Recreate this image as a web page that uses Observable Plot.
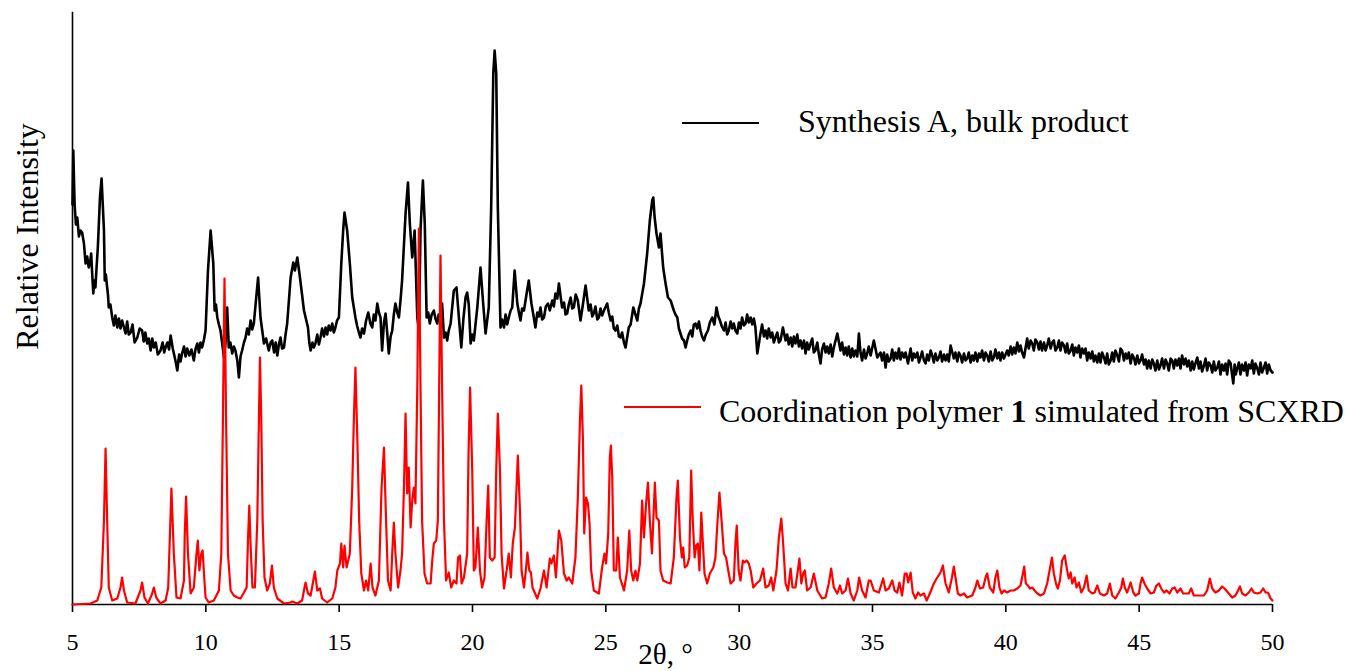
<!DOCTYPE html>
<html>
<head>
<meta charset="utf-8">
<script src="https://cdn.jsdelivr.net/npm/d3@7"></script>
<script src="https://cdn.jsdelivr.net/npm/@observablehq/plot@0.6"></script>
<style>
  html, body { margin: 0; padding: 0; background: #fff; }
  #chart { width: 1349px; height: 671px; }
</style>
</head>
<body>
<div id="chart"></div>
<script>
// Powder X-ray diffraction patterns, intensity in arbitrary units.
const xTicks = [5, 10, 15, 20, 25, 30, 35, 40, 45, 50];
const seriesNames = ["Synthesis A, bulk product", "Coordination polymer 1 simulated from SCXRD"];
const seriesColors = ["#000000", "#ff0000"];

// [2θ (°), intensity] measured pattern of the bulk product
const bulkPattern = [
  [5.00,400],[5.03,454],[5.06,420],[5.08,399],[5.13,380],[5.18,387],[5.24,368],[5.30,374],[5.36,372],[5.43,361],
  [5.49,341],[5.55,348],[5.61,337],[5.66,342],[5.70,351],[5.74,330],[5.78,311],[5.82,324],[5.86,317],[5.90,336],
  [5.95,357],[6.03,407],[6.09,426],[6.18,374],[6.21,324],[6.25,330],[6.30,317],[6.33,310],[6.36,297],[6.42,300],
  [6.49,287],[6.55,279],[6.61,289],[6.68,277],[6.74,286],[6.80,276],[6.86,284],[6.92,278],[6.99,271],[7.05,283],
  [7.11,270],[7.18,272],[7.25,280],[7.33,262],[7.43,267],[7.52,276],[7.61,274],[7.67,263],[7.73,272],[7.80,261],
  [7.86,266],[7.93,254],[7.99,266],[8.05,257],[8.12,262],[8.20,250],[8.30,254],[8.38,262],[8.44,252],[8.49,257],
  [8.56,262],[8.62,255],[8.68,269],[8.76,256],[8.86,244],[8.93,234],[9.00,250],[9.05,243],[9.11,251],[9.18,258],
  [9.24,248],[9.30,256],[9.38,249],[9.46,255],[9.55,244],[9.61,255],[9.68,261],[9.74,252],[9.80,262],[9.86,257],
  [9.93,265],[9.99,274],[10.08,334],[10.18,374],[10.28,341],[10.33,294],[10.38,300],[10.43,287],[10.49,280],[10.55,274],
  [10.61,262],[10.68,247],[10.74,262],[10.80,297],[10.86,257],[10.92,262],[10.99,251],[11.05,258],[11.11,254],[11.18,244],
  [11.24,227],[11.30,248],[11.36,254],[11.43,262],[11.49,267],[11.55,276],[11.61,270],[11.68,284],[11.74,275],[11.80,281],
  [11.89,307],[11.96,327],[12.05,287],[12.18,261],[12.26,266],[12.36,254],[12.43,262],[12.49,264],[12.56,252],[12.62,262],
  [12.68,249],[12.74,260],[12.80,267],[12.86,256],[12.93,257],[12.99,270],[13.05,281],[13.18,327],[13.28,342],[13.34,334],
  [13.43,347],[13.53,327],[13.68,294],[13.83,277],[13.88,262],[13.93,254],[14.00,262],[14.05,257],[14.11,261],[14.18,270],
  [14.24,260],[14.30,267],[14.36,276],[14.43,268],[14.49,277],[14.55,270],[14.61,279],[14.68,274],[14.74,281],[14.80,272],
  [14.86,277],[14.92,284],[14.99,287],[15.08,341],[15.15,374],[15.20,392],[15.30,374],[15.40,341],[15.49,307],[15.61,287],
  [15.67,279],[15.74,272],[15.80,267],[15.86,276],[15.93,271],[16.01,284],[16.09,292],[16.17,281],[16.24,277],[16.30,290],
  [16.36,284],[16.43,301],[16.49,292],[16.55,287],[16.61,254],[16.68,282],[16.74,291],[16.80,272],[16.86,251],[16.93,268],
  [16.99,274],[17.05,290],[17.11,301],[17.18,292],[17.24,287],[17.30,304],[17.36,324],[17.49,391],[17.58,422],[17.65,381],
  [17.74,347],[17.83,374],[17.93,287],[17.99,274],[18.05,374],[18.14,424],[18.21,381],[18.28,287],[18.34,292],[18.40,281],
  [18.47,290],[18.55,294],[18.61,286],[18.68,281],[18.73,290],[18.78,284],[18.86,301],[18.93,267],[18.99,272],[19.05,264],
  [19.11,274],[19.18,281],[19.30,314],[19.40,317],[19.49,287],[19.58,257],[19.66,286],[19.74,307],[19.80,312],[19.86,300],
  [19.93,261],[19.99,270],[20.05,264],[20.18,297],[20.30,337],[20.40,301],[20.49,271],[20.61,297],[20.70,397],[20.78,531],
  [20.83,554],[20.89,531],[20.95,397],[21.05,277],[21.11,285],[21.18,277],[21.24,290],[21.30,280],[21.36,287],[21.43,294],
  [21.49,297],[21.58,334],[21.68,301],[21.74,292],[21.80,284],[21.86,296],[21.93,294],[22.03,311],[22.11,324],[22.21,301],
  [22.28,290],[22.36,277],[22.43,292],[22.49,288],[22.55,297],[22.61,285],[22.68,287],[22.75,298],[22.83,301],[22.90,294],
  [22.99,304],[23.05,298],[23.11,311],[23.18,306],[23.24,321],[23.36,297],[23.43,302],[23.49,290],[23.55,291],[23.61,300],
  [23.68,307],[23.74,296],[23.80,297],[23.87,310],[23.95,304],[24.05,284],[24.14,300],[24.24,319],[24.36,294],[24.43,300],
  [24.49,288],[24.55,291],[24.61,298],[24.68,285],[24.74,287],[24.80,296],[24.86,289],[24.93,294],[25.05,301],[25.11,292],
  [25.18,284],[25.24,288],[25.30,276],[25.36,274],[25.43,279],[25.49,268],[25.55,267],[25.61,272],[25.68,262],[25.74,257],
  [25.86,277],[25.93,280],[26.03,297],[26.11,290],[26.18,284],[26.24,296],[26.30,301],[26.43,321],[26.55,351],[26.65,384],
  [26.74,404],[26.78,407],[26.83,387],[26.90,371],[26.99,357],[27.05,371],[27.15,337],[27.24,321],[27.33,307],[27.43,304],
  [27.55,294],[27.61,290],[27.68,287],[27.74,276],[27.80,271],[27.86,266],[27.93,264],[27.99,257],[28.05,264],[28.11,270],
  [28.18,274],[28.24,268],[28.30,280],[28.36,281],[28.43,276],[28.49,283],[28.55,274],[28.61,268],[28.68,264],[28.75,270],
  [28.83,274],[28.90,282],[28.99,287],[29.07,280],[29.15,297],[29.22,288],[29.28,284],[29.35,278],[29.43,274],[29.49,282],
  [29.55,270],[29.61,274],[29.68,283],[29.74,276],[29.80,281],[29.86,274],[29.93,271],[29.99,282],[30.05,276],[30.11,287],
  [30.18,279],[30.24,281],[30.30,290],[30.36,282],[30.43,287],[30.49,280],[30.55,286],[30.61,277],[30.68,251],[30.80,271],
  [30.86,280],[30.93,268],[30.99,274],[31.05,266],[31.11,276],[31.18,267],[31.24,272],[31.30,262],[31.36,267],[31.43,272],
  [31.49,262],[31.55,264],[31.64,277],[31.74,264],[31.80,270],[31.86,260],[31.93,267],[31.99,258],[32.05,268],[32.11,261],
  [32.18,270],[32.24,258],[32.30,264],[32.36,256],[32.43,264],[32.49,251],[32.55,262],[32.61,255],[32.68,261],[32.74,266],
  [32.80,252],[32.86,254],[32.93,262],[32.99,250],[33.05,241],[33.11,255],[33.18,261],[33.24,252],[33.30,258],[33.36,251],
  [33.43,260],[33.49,248],[33.55,257],[33.68,271],[33.80,254],[33.86,262],[33.93,250],[33.99,257],[34.05,249],[34.11,258],
  [34.18,247],[34.24,256],[34.30,248],[34.36,254],[34.43,248],[34.49,271],[34.55,252],[34.61,244],[34.68,255],[34.74,246],
  [34.80,251],[34.86,258],[34.93,249],[35.05,264],[35.18,247],[35.30,252],[35.36,244],[35.43,252],[35.49,237],[35.55,250],
  [35.61,243],[35.68,246],[35.74,255],[35.80,244],[35.86,252],[35.93,246],[35.99,256],[36.05,245],[36.11,252],[36.18,247],
  [36.24,252],[36.33,241],[36.43,256],[36.49,244],[36.55,251],[36.61,247],[36.68,252],[36.74,242],[36.80,247],[36.86,253],
  [36.93,244],[36.99,241],[37.05,250],[37.11,244],[37.18,254],[37.24,249],[37.30,242],[37.36,251],[37.43,244],[37.49,247],
  [37.55,253],[37.61,243],[37.68,250],[37.74,244],[37.80,250],[37.86,243],[37.93,259],[38.05,246],[38.11,252],[38.18,243],
  [38.24,252],[38.30,249],[38.36,242],[38.43,251],[38.49,244],[38.55,246],[38.61,252],[38.68,242],[38.74,249],[38.80,244],
  [38.86,252],[38.93,243],[38.99,251],[39.05,247],[39.11,254],[39.18,244],[39.24,252],[39.30,249],[39.36,243],[39.43,253],
  [39.49,244],[39.55,247],[39.61,255],[39.68,246],[39.74,252],[39.80,244],[39.86,252],[39.93,246],[40.05,254],[40.11,249],
  [40.18,258],[40.24,250],[40.30,257],[40.36,251],[40.43,262],[40.49,253],[40.55,259],[40.61,252],[40.68,247],[40.80,266],
  [40.86,256],[40.93,264],[40.99,261],[41.05,254],[41.11,265],[41.18,262],[41.24,255],[41.30,263],[41.36,254],[41.43,262],
  [41.49,254],[41.55,259],[41.61,266],[41.68,256],[41.74,262],[41.80,264],[41.86,254],[41.93,257],[41.99,264],[42.05,254],
  [42.11,262],[42.18,259],[42.24,252],[42.30,261],[42.36,251],[42.43,254],[42.49,260],[42.55,249],[42.61,257],[42.68,252],
  [42.74,259],[42.80,247],[42.86,256],[42.93,251],[42.99,256],[43.05,244],[43.11,252],[43.18,246],[43.24,253],[43.30,243],
  [43.36,249],[43.43,242],[43.49,251],[43.55,242],[43.61,252],[43.68,247],[43.74,241],[43.80,251],[43.86,240],[43.93,244],
  [43.99,252],[44.05,243],[44.11,254],[44.18,249],[44.24,243],[44.30,256],[44.36,254],[44.43,244],[44.49,251],[44.55,246],
  [44.61,252],[44.68,241],[44.74,250],[44.80,247],[44.86,240],[44.93,249],[44.99,241],[45.05,244],[45.11,250],[45.18,240],
  [45.24,245],[45.30,236],[45.36,244],[45.43,236],[45.49,245],[45.55,241],[45.61,234],[45.68,244],[45.74,235],[45.80,239],
  [45.86,246],[45.93,236],[45.99,245],[46.05,241],[46.11,234],[46.18,246],[46.24,244],[46.30,236],[46.36,245],[46.43,239],
  [46.49,246],[46.55,236],[46.61,249],[46.68,240],[46.74,246],[46.80,238],[46.86,244],[46.93,234],[46.99,243],[47.05,235],
  [47.11,241],[47.18,247],[47.24,236],[47.30,243],[47.36,233],[47.43,239],[47.49,246],[47.55,234],[47.61,242],[47.68,239],
  [47.74,232],[47.80,243],[47.86,234],[47.93,237],[47.99,243],[48.05,230],[48.11,240],[48.18,234],[48.24,241],[48.30,230],
  [48.36,244],[48.43,241],[48.53,221],[48.58,240],[48.62,230],[48.68,236],[48.74,242],[48.80,230],[48.86,240],[48.93,234],
  [48.99,242],[49.05,229],[49.11,240],[49.18,236],[49.24,244],[49.30,231],[49.36,241],[49.43,236],[49.49,230],[49.55,242],
  [49.61,232],[49.68,237],[49.74,242],[49.80,231],[49.86,240],[49.93,234],[50.00,232]
];

// [2θ (°), intensity] pattern simulated from the single-crystal structure
const simulatedPattern = [
  [5.00,0],[5.68,1],[5.93,4],[6.08,17],[6.18,84],[6.24,156],[6.30,84],[6.36,17],[6.49,4],[6.68,6],
  [6.80,17],[6.86,27],[6.93,14],[7.05,2],[7.36,1],[7.55,14],[7.61,22],[7.70,7],[7.83,1],[7.99,11],
  [8.05,17],[8.14,7],[8.30,1],[8.49,4],[8.59,17],[8.65,67],[8.71,116],[8.80,51],[8.90,7],[9.05,6],
  [9.18,24],[9.21,71],[9.26,108],[9.33,51],[9.43,11],[9.55,17],[9.65,51],[9.70,64],[9.76,34],[9.83,51],
  [9.88,54],[9.93,31],[9.99,7],[10.11,2],[10.30,4],[10.49,14],[10.58,51],[10.64,184],[10.70,326],[10.76,184],
  [10.83,51],[10.93,14],[11.05,9],[11.18,7],[11.30,6],[11.43,12],[11.53,17],[11.58,64],[11.63,99],[11.69,51],
  [11.75,17],[11.84,17],[11.93,84],[11.99,184],[12.03,247],[12.08,184],[12.13,84],[12.20,27],[12.30,14],[12.40,21],
  [12.48,39],[12.55,17],[12.68,6],[12.93,1],[13.18,2],[13.24,3],[13.43,1],[13.61,4],[13.68,14],[13.74,22],
  [13.83,11],[13.93,9],[14.03,24],[14.09,33],[14.18,14],[14.28,16],[14.36,6],[14.55,2],[14.74,6],[14.86,17],
  [14.93,34],[15.03,41],[15.08,61],[15.15,37],[15.20,59],[15.28,37],[15.40,51],[15.49,117],[15.55,184],[15.61,237],
  [15.68,167],[15.75,84],[15.83,31],[15.93,14],[16.01,24],[16.09,14],[16.18,41],[16.25,17],[16.36,9],[16.49,24],
  [16.59,117],[16.68,157],[16.74,101],[16.83,24],[16.93,14],[16.99,51],[17.05,82],[17.11,51],[17.21,17],[17.30,34],
  [17.36,51],[17.43,117],[17.49,191],[17.55,111],[17.61,137],[17.68,77],[17.74,104],[17.80,117],[17.86,101],[17.93,217],
  [17.99,376],[18.05,217],[18.11,84],[18.20,31],[18.30,21],[18.43,21],[18.49,44],[18.55,61],[18.64,64],[18.70,84],
  [18.75,217],[18.80,349],[18.86,217],[18.93,84],[19.01,24],[19.11,32],[19.20,17],[19.30,24],[19.40,21],[19.46,47],
  [19.53,49],[19.59,21],[19.68,27],[19.80,51],[19.85,150],[19.91,217],[19.99,134],[20.05,34],[20.11,37],[20.20,77],
  [20.28,34],[20.36,17],[20.45,27],[20.53,84],[20.59,119],[20.65,47],[20.74,44],[20.83,47],[20.89,134],[20.95,191],
  [21.03,134],[21.09,51],[21.18,16],[21.28,34],[21.36,51],[21.44,27],[21.51,61],[21.59,77],[21.70,149],[21.78,94],
  [21.84,34],[21.93,17],[22.00,34],[22.06,52],[22.13,34],[22.19,32],[22.25,17],[22.43,6],[22.55,16],[22.68,34],
  [22.78,17],[22.90,46],[22.96,41],[23.05,49],[23.13,27],[23.24,74],[23.33,64],[23.43,31],[23.53,24],[23.61,27],
  [23.74,21],[23.86,47],[23.95,107],[24.03,184],[24.08,219],[24.14,167],[24.19,71],[24.26,107],[24.33,101],[24.39,81],
  [24.45,34],[24.55,14],[24.74,11],[24.86,37],[24.95,51],[25.01,41],[25.09,71],[25.15,147],[25.19,159],[25.24,127],
  [25.30,34],[25.39,34],[25.45,67],[25.53,27],[25.68,14],[25.80,34],[25.88,74],[25.95,34],[26.03,24],[26.11,34],
  [26.18,24],[26.28,41],[26.36,104],[26.43,67],[26.51,101],[26.58,122],[26.65,84],[26.73,51],[26.79,91],[26.84,122],
  [26.90,87],[26.99,84],[27.05,34],[27.15,24],[27.30,22],[27.43,21],[27.55,47],[27.65,107],[27.70,124],[27.78,67],
  [27.85,47],[27.90,57],[27.96,37],[28.05,39],[28.13,47],[28.20,134],[28.26,84],[28.33,47],[28.39,59],[28.45,61],
  [28.51,34],[28.58,92],[28.64,61],[28.70,31],[28.80,21],[28.90,31],[29.03,37],[29.11,47],[29.19,84],[29.26,112],
  [29.34,84],[29.43,51],[29.51,47],[29.59,34],[29.68,21],[29.80,24],[29.86,61],[29.91,79],[29.98,34],[30.05,24],
  [30.14,44],[30.20,42],[30.28,44],[30.36,41],[30.43,34],[30.53,17],[30.65,21],[30.78,24],[30.90,36],[30.99,17],
  [31.11,19],[31.20,27],[31.28,14],[31.40,34],[31.49,67],[31.58,86],[31.65,61],[31.74,21],[31.83,14],[31.93,36],
  [32.00,17],[32.11,17],[32.20,34],[32.26,46],[32.33,21],[32.40,31],[32.46,34],[32.55,14],[32.68,17],[32.80,31],
  [32.93,14],[33.11,6],[33.24,7],[33.36,21],[33.45,36],[33.55,17],[33.68,11],[33.78,19],[33.86,11],[33.99,14],
  [34.08,26],[34.18,11],[34.30,4],[34.43,14],[34.50,27],[34.61,14],[34.74,7],[34.86,24],[34.93,24],[35.05,14],
  [35.24,12],[35.40,26],[35.49,14],[35.61,16],[35.74,24],[35.83,14],[35.93,12],[36.01,22],[36.11,9],[36.21,31],
  [36.28,31],[36.34,22],[36.43,32],[36.51,12],[36.61,6],[36.71,12],[36.80,9],[36.93,11],[37.03,4],[37.15,11],
  [37.30,21],[37.43,27],[37.55,32],[37.64,39],[37.74,21],[37.86,12],[37.98,27],[38.05,38],[38.13,24],[38.20,11],
  [38.30,9],[38.43,11],[38.55,7],[38.74,9],[38.86,17],[38.93,24],[39.03,16],[39.15,17],[39.24,27],[39.30,31],
  [39.40,17],[39.53,12],[39.61,27],[39.68,34],[39.76,17],[39.84,11],[39.93,14],[40.05,12],[40.18,14],[40.30,14],
  [40.43,16],[40.55,19],[40.64,31],[40.69,38],[40.75,21],[40.83,19],[40.90,16],[40.99,17],[41.08,14],[41.18,11],
  [41.30,9],[41.43,11],[41.55,21],[41.64,34],[41.73,47],[41.80,31],[41.88,21],[41.95,16],[42.03,24],[42.11,44],
  [42.21,49],[42.30,34],[42.36,26],[42.43,32],[42.49,21],[42.58,27],[42.65,17],[42.74,22],[42.83,12],[42.93,17],
  [43.03,29],[43.11,14],[43.24,11],[43.33,12],[43.43,19],[43.53,11],[43.68,9],[43.80,11],[43.90,21],[43.99,9],
  [44.11,6],[44.24,12],[44.33,17],[44.39,26],[44.46,17],[44.55,12],[44.68,22],[44.78,12],[44.86,9],[44.99,11],
  [45.05,21],[45.11,27],[45.20,21],[45.30,16],[45.43,11],[45.55,12],[45.65,19],[45.74,21],[45.83,16],[45.93,12],
  [46.03,14],[46.14,11],[46.24,16],[46.33,17],[46.43,12],[46.55,16],[46.65,11],[46.74,11],[46.86,11],[46.95,16],
  [47.05,9],[47.24,9],[47.43,9],[47.55,14],[47.65,26],[47.74,16],[47.86,12],[47.99,14],[48.11,18],[48.20,16],
  [48.33,12],[48.49,7],[48.61,9],[48.71,14],[48.78,18],[48.86,11],[48.99,9],[49.11,12],[49.21,16],[49.30,12],
  [49.43,11],[49.55,12],[49.65,16],[49.74,12],[49.83,12],[49.93,6],[50.00,4]
];

const serif = "'Liberation Serif', 'Times New Roman', Times, serif";

const chart = Plot.plot({
  width: 1349,
  height: 671,
  marginLeft: 72,
  marginRight: 77,
  marginTop: 12,
  marginBottom: 67,
  style: { fontFamily: serif, fontSize: "24px", color: "#000", background: "#fff" },
  x: { domain: [5, 50] },
  y: { domain: [0, 592], axis: null },
  marks: [
    Plot.frame({ anchor: "left", stroke: "#000", strokeWidth: 1.6 }),
    Plot.ruleY([0], { stroke: "#000", strokeWidth: 1.6 }),
    Plot.axisX({ ticks: xTicks, tickSize: 8, tickPadding: 20, fontSize: 24, label: null, strokeWidth: 1.6 }),
    Plot.line(bulkPattern, { x: d => d[0], y: d => d[1], stroke: seriesColors[0], strokeWidth: 2.6, strokeLinejoin: "round" }),
    Plot.line(simulatedPattern, { x: d => d[0], y: d => d[1], stroke: seriesColors[1], strokeWidth: 2.2, strokeLinejoin: "round" }),
    Plot.text(["2θ, °"], { frameAnchor: "bottom", lineAnchor: "middle", textAnchor: "middle", dx: -7, dy: 50, fontSize: 29 }),
    Plot.text(["Relative Intensity"], { frameAnchor: "left", lineAnchor: "middle", textAnchor: "middle", rotate: -90, dx: -45, dy: -72, fontSize: 32 })
  ]
});

document.getElementById("chart").appendChild(chart);

// Legend: a short line sample followed by the series name
const svg = d3.select(chart);
const legend = svg.append("g")
  .attr("font-family", serif)
  .attr("font-size", 32)
  .attr("text-anchor", "start")
  .attr("fill", "#000");
const legendItems = [
  { sx: 682, sy: 123, tx: 798, ty: 132 },
  { sx: 624, sy: 407, tx: 719, ty: 422 }
];
legendItems.forEach((item, i) => {
  legend.append("line")
    .attr("x1", item.sx).attr("x2", item.sx + 77)
    .attr("y1", item.sy).attr("y2", item.sy)
    .attr("stroke", seriesColors[i]).attr("stroke-width", 2);
  const t = legend.append("text").attr("x", item.tx).attr("y", item.ty);
  if (i === 1) {
    t.append("tspan").text("Coordination polymer ");
    t.append("tspan").attr("font-weight", "bold").text("1");
    t.append("tspan").text(" simulated from SCXRD");
  } else {
    t.text(seriesNames[i]);
  }
});
</script>
</body>
</html>
